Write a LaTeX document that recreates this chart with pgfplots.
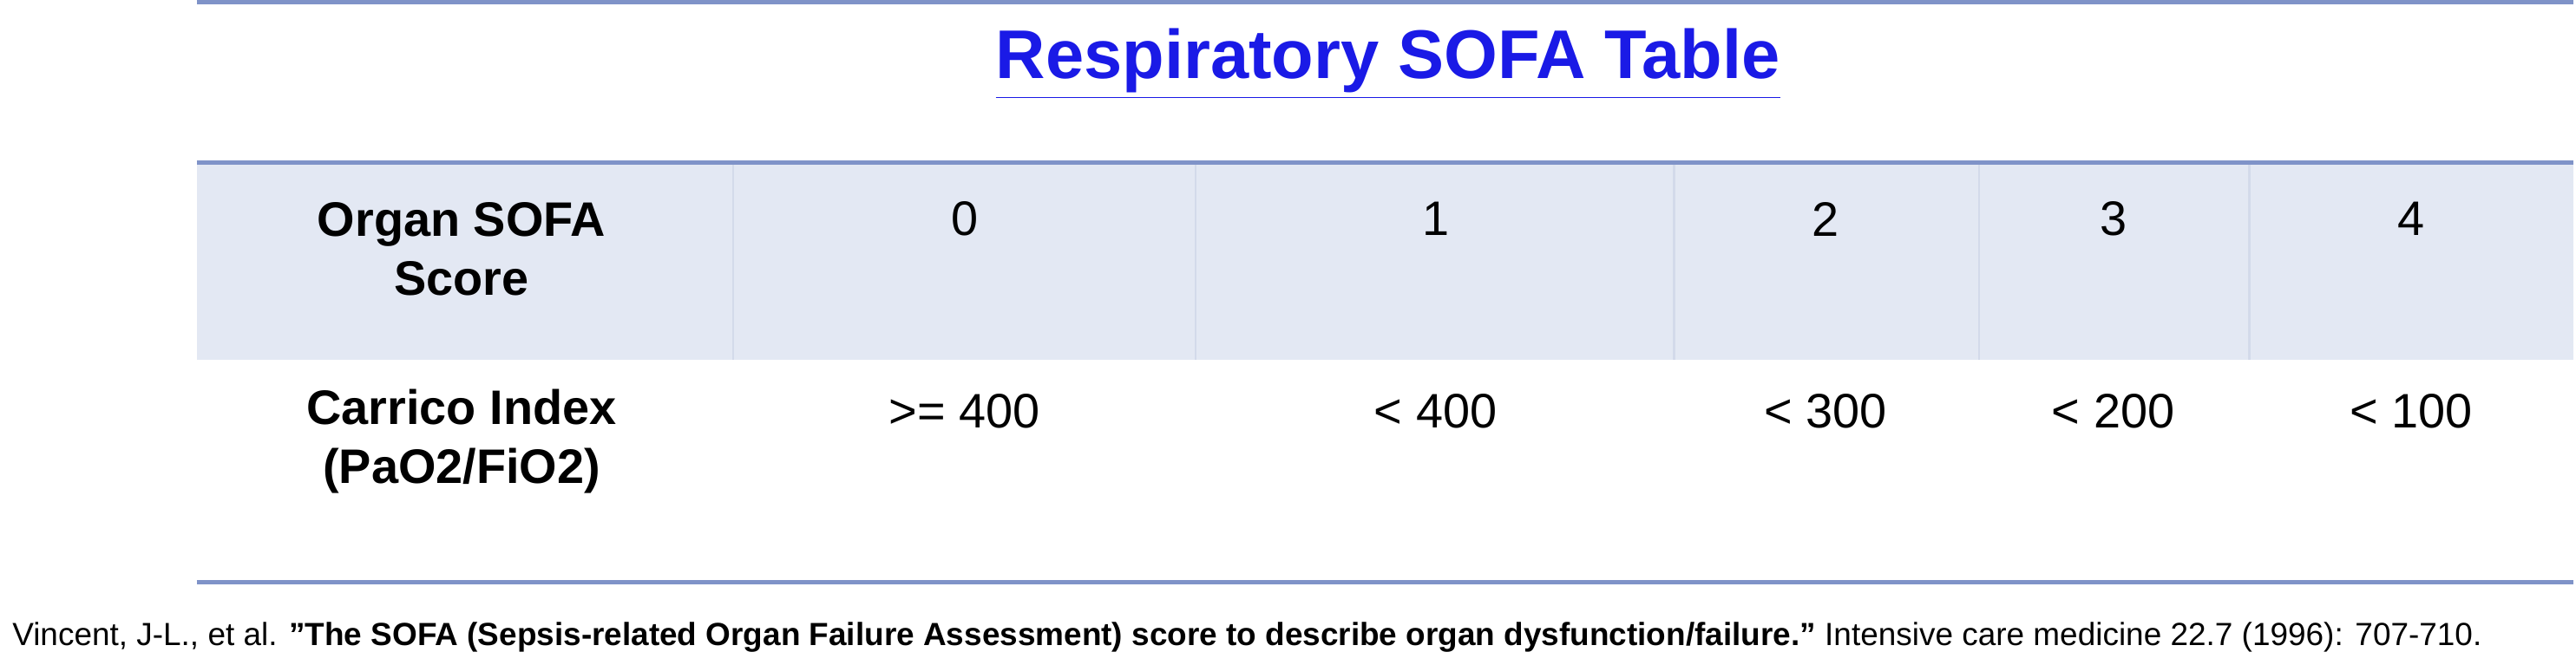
\documentclass[border=0pt]{standalone}
\usepackage{pgfplots}
\pgfplotsset{compat=1.18}
\usepackage{fontspec}
\setmainfont{Liberation Sans}
\definecolor{band}{HTML}{E3E8F3}
\definecolor{rule}{HTML}{7F93C8}
\definecolor{sep}{HTML}{D3DAEA}
\definecolor{ttl}{HTML}{1A1AE6}
\begin{document}
\begin{tikzpicture}
\begin{axis}[scale only axis, width=742.25pt, height=184.6pt,
  xmin=0, xmax=1568, ymin=0, ymax=390, y dir=reverse, hide axis, clip=false]
\addplot[draw=none, fill=band] coordinates {(118,103)(1465,103)(1465,215)(118,215)} -- cycle;
\addplot[sep, line width=0.6pt] coordinates {(422,103)(422,215)};
\addplot[sep, line width=0.6pt] coordinates {(684,103)(684,215)};
\addplot[sep, line width=0.6pt] coordinates {(955,103)(955,215)};
\addplot[sep, line width=0.6pt] coordinates {(1128,103)(1128,215)};
\addplot[sep, line width=0.6pt] coordinates {(1281,103)(1281,215)};
\addplot[rule, line width=1.2pt] coordinates {(118,12)(1465,12)};
\addplot[rule, line width=1.2pt] coordinates {(118,103)(1465,103)};
\addplot[rule, line width=1.2pt] coordinates {(118,341)(1465,341)};
\node[font=\fontsize{18.5}{22}\selectfont\bfseries, text=ttl] at (axis cs:793,47) {\underline{Respiratory SOFA Table}};
\node[font=\fontsize{13}{16}\selectfont\bfseries, align=center] at (axis cs:268,152) {Organ SOFA\\Score};
\node[font=\fontsize{13}{16}\selectfont\bfseries, align=center] at (axis cs:268,261) {Carrico Index\\(PaO2/FiO2)};
\node[font=\fontsize{13}{16}\selectfont] at (axis cs:553,135) {0};
\node[font=\fontsize{13}{16}\selectfont] at (axis cs:820,135) {1};
\node[font=\fontsize{13}{16}\selectfont] at (axis cs:1041,135) {2};
\node[font=\fontsize{13}{16}\selectfont] at (axis cs:1204,135) {3};
\node[font=\fontsize{13}{16}\selectfont] at (axis cs:1373,135) {4};
\node[font=\fontsize{13}{16}\selectfont] at (axis cs:553,244) {>= 400};
\node[font=\fontsize{13}{16}\selectfont] at (axis cs:820,244) {< 400};
\node[font=\fontsize{13}{16}\selectfont] at (axis cs:1041,244) {< 300};
\node[font=\fontsize{13}{16}\selectfont] at (axis cs:1204,244) {< 200};
\node[font=\fontsize{13}{16}\selectfont] at (axis cs:1373,244) {< 100};
\node[font=\fontsize{8.6}{10}\selectfont, anchor=west] at (axis cs:6,372) {Vincent, J-L., et al. \textbf{"The SOFA (Sepsis-related Organ Failure Assessment) score to describe organ dysfunction/failure."} Intensive care medicine 22.7 (1996): 707-710.};
\end{axis}
\end{tikzpicture}
\end{document}
